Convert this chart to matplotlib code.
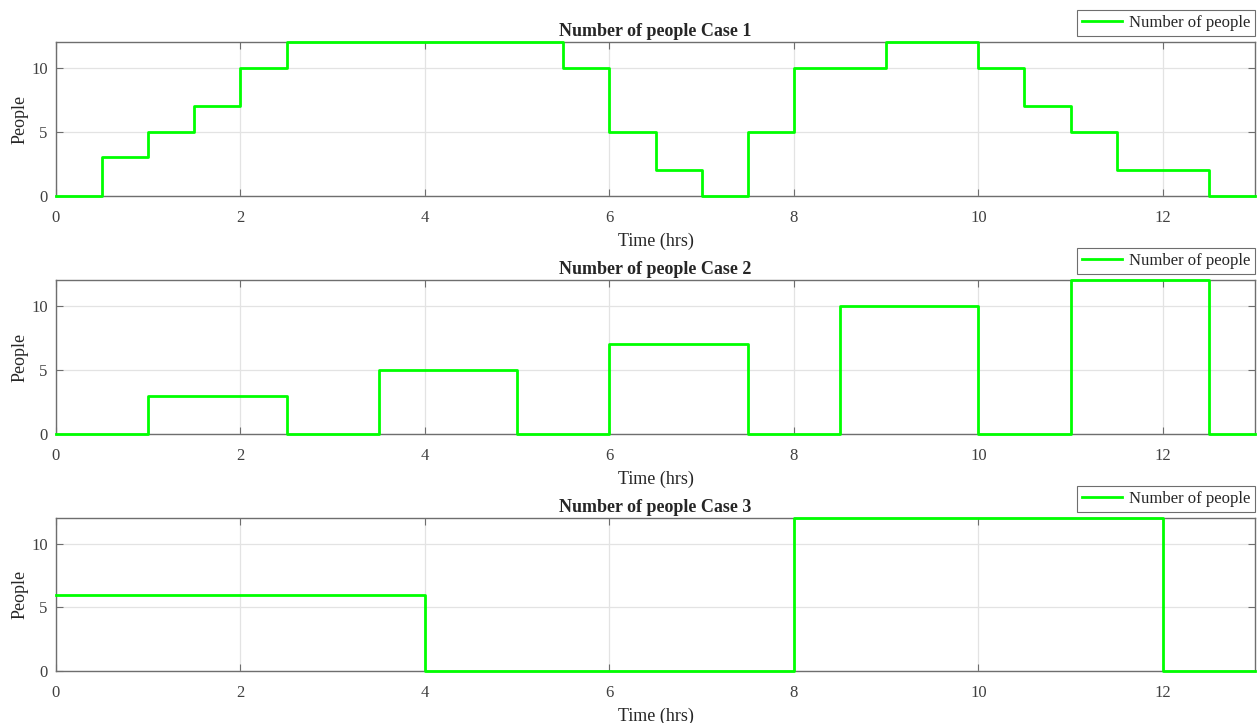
import matplotlib
matplotlib.use("Agg")
import matplotlib.pyplot as plt

# Data (step changes: value holds from time t until next time)
case1_t = [0, 0.5, 1, 1.5, 2, 2.5, 5.5, 6, 6.5, 7, 7.5, 8, 9, 10, 10.5, 11, 11.5, 12.5, 13]
case1_v = [0, 3, 5, 7, 10, 12, 10, 5, 2, 0, 5, 10, 12, 10, 7, 5, 2, 0, 0]

case2_t = [0, 1, 2.5, 3.5, 5, 6, 7.5, 8.5, 10, 11, 12.5, 13]
case2_v = [0, 3, 0, 5, 0, 7, 0, 10, 0, 12, 0, 0]

case3_t = [0, 4, 8, 12, 13]
case3_v = [6, 0, 12, 0, 0]

titles = ["Number of people Case 1", "Number of people Case 2", "Number of people Case 3"]
xticks = [0, 2, 4, 6, 8, 10, 12]
yticks = [0, 5, 10]

plt.rcParams['font.family'] = ['Liberation Serif', 'DejaVu Serif']

fig = plt.figure(figsize=(12.59, 7.23), dpi=100)
W, H = 1259, 723
boxes = [(42, 196), (280, 434), (518, 671)]
left, right = 56, 1255
data = [(case1_t, case1_v), (case2_t, case2_v), (case3_t, case3_v)]
spine_c = '#6e6e6e'
text_c = '#404040'

for (top, bot), (t, v), title in zip(boxes, data, titles):
    ax = fig.add_axes([left / W, 1 - bot / H, (right - left) / W, (bot - top) / H])
    ax.step(t, v, where='post', color='#00ff00', lw=2, label='Number of people',
            clip_on=False, zorder=3)
    ax.set_xlim(0, 13)
    ax.set_ylim(0, 12)
    ax.set_xticks(xticks)
    ax.set_yticks(yticks)
    ax.grid(True, color='#e3e3e3', lw=0.9)
    ax.set_axisbelow(True)
    ax.tick_params(direction='in', top=True, right=True, length=5, width=0.8,
                   color=spine_c, labelcolor=text_c, labelsize=12)
    ax.tick_params(axis='x', pad=10)
    ax.tick_params(axis='y', pad=6)
    for s in ax.spines.values():
        s.set_color(spine_c)
        s.set_linewidth(1.0)
    ax.set_xlabel('Time (hrs)', fontsize=13, color='#262626', labelpad=5)
    ax.set_ylabel('People', fontsize=13, color='#262626', labelpad=2)
    ax.set_title(title, fontsize=13, fontweight='bold', color='#262626', pad=4)
    leg = ax.legend(loc='upper right', bbox_to_anchor=(1.0, 1.21), borderaxespad=0,
                    fancybox=False, framealpha=1, edgecolor='#6e6e6e', fontsize=12,
                    handlelength=2.4, handletextpad=0.4, borderpad=0.3)
    leg.get_frame().set_linewidth(0.8)
    for txt in leg.get_texts():
        txt.set_color('#262626')

fig.savefig('out.png', dpi=100)
